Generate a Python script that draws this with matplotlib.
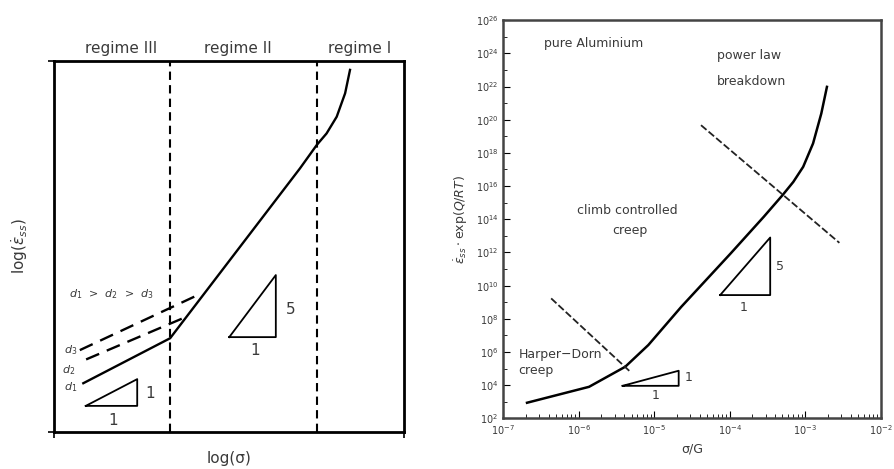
import numpy as np
import matplotlib.pyplot as plt
from matplotlib.ticker import FixedLocator, NullFormatter

# left panel (schematic, axes units 0..1)
main_x = [0.083, 0.331, 0.702, 0.750, 0.778, 0.807, 0.831, 0.845]
main_y = [0.132, 0.253, 0.710, 0.773, 0.804, 0.849, 0.912, 0.975]
d2_x = [0.091, 0.378]
d2_y = [0.196, 0.311]
d3_x = [0.073, 0.421]
d3_y = [0.221, 0.374]
regime_bounds = [0.331, 0.750]
regime_names = ['regime III', 'regime II', 'regime I']
regime_pos = [0.192, 0.526, 0.873]
tri1_x = [0.090, 0.237, 0.237, 0.090]
tri1_y = [0.071, 0.071, 0.143, 0.071]
tri5_x = [0.500, 0.633, 0.633, 0.500]
tri5_y = [0.256, 0.256, 0.423, 0.256]

# right panel (log10 values)
al_logs = [-6.686, -5.864, -5.384, -5.078, -4.642, -3.987, -3.55, -3.30,
           -3.157, -3.026, -2.895, -2.786, -2.711]
al_logr = [2.94, 3.90, 5.11, 6.42, 8.72, 11.94, 14.14, 15.45,
           16.25, 17.16, 18.57, 20.37, 21.98]
plb_logs = [-4.380, -2.546]
plb_logr = [19.67, 12.58]
hd_logs = [-6.366, -5.318]
hd_logr = [9.23, 4.81]
t5_logs = [-4.126, -3.463, -3.463, -4.126]
t5_logr = [9.43, 9.43, 12.90, 9.43]
t1_logs = [-5.419, -4.676, -4.676, -5.419]
t1_logr = [3.96, 3.96, 4.87, 3.96]

txt = '#3a3a3a'
fig = plt.figure(figsize=(8.94, 4.69), dpi=100)

# ---- left
ax = fig.add_axes([0.0607, 0.0783, 0.3915, 0.7925])
ax.plot(main_x, main_y, color='black', lw=1.7)
ax.plot(d2_x, d2_y, color='black', lw=1.7, dashes=(6, 3.5))
ax.plot(d3_x, d3_y, color='black', lw=1.7, dashes=(6, 3.5))
for b in regime_bounds:
    ax.axvline(b, color='black', lw=1.5, dashes=(4, 2.5))
for n, p in zip(regime_names, regime_pos):
    ax.text(p, 1.033, n, ha='center', va='center', fontsize=11, color=txt,
            transform=ax.transAxes)
ax.plot(tri1_x, tri1_y, color='black', lw=1.3)
ax.plot(tri5_x, tri5_y, color='black', lw=1.3)
ax.text(0.169, 0.031, '1', ha='center', va='center', fontsize=11, color=txt)
ax.text(0.275, 0.103, '1', ha='center', va='center', fontsize=11, color=txt)
ax.text(0.573, 0.22, '1', ha='center', va='center', fontsize=11, color=txt)
ax.text(0.675, 0.331, '5', ha='center', va='center', fontsize=11, color=txt)
ax.text(0.047, 0.222, '$d_3$', ha='center', va='center', fontsize=8, color=txt)
ax.text(0.042, 0.168, '$d_2$', ha='center', va='center', fontsize=8, color=txt)
ax.text(0.048, 0.121, '$d_1$', ha='center', va='center', fontsize=8, color=txt)
ax.text(0.164, 0.371, '$d_1$  >  $d_2$  >  $d_3$', ha='center', va='center',
        fontsize=8, color=txt)
ax.set_xlim(0, 1)
ax.set_ylim(0, 1)
ax.set_xticks([0, 1])
ax.set_yticks([0, 1])
ax.set_xticklabels([])
ax.set_yticklabels([])
ax.tick_params(direction='out', length=4, width=1.2)
for s in ax.spines.values():
    s.set_linewidth(2)
ax.set_xlabel('log(σ)', fontsize=11, color=txt, labelpad=6)
ax.set_ylabel(r'log($\dot{\varepsilon}_{ss}$)', fontsize=11, color=txt, labelpad=10)

# ---- right
ax2 = fig.add_axes([0.563, 0.108, 0.422, 0.849])
ax2.plot(10.0 ** np.array(al_logs), 10.0 ** np.array(al_logr), color='black', lw=1.8)
ax2.plot(10.0 ** np.array(plb_logs), 10.0 ** np.array(plb_logr), color='#222222',
         lw=1.3, dashes=(4, 1.5))
ax2.plot(10.0 ** np.array(hd_logs), 10.0 ** np.array(hd_logr), color='#222222',
         lw=1.3, dashes=(4, 1.5))
ax2.plot(10.0 ** np.array(t5_logs), 10.0 ** np.array(t5_logr), color='black', lw=1.3)
ax2.plot(10.0 ** np.array(t1_logs), 10.0 ** np.array(t1_logr), color='black', lw=1.3)
ax2.set_xscale('log')
ax2.set_yscale('log')
ax2.set_xlim(1e-7, 1e-2)
ax2.set_ylim(1e2, 1e26)
ax2.yaxis.set_major_locator(FixedLocator(10.0 ** np.arange(2, 27, 2)))
ax2.yaxis.set_minor_locator(FixedLocator(10.0 ** np.arange(3, 26, 2)))
ax2.yaxis.set_minor_formatter(NullFormatter())
ax2.tick_params(which='both', direction='in', top=False, right=False,
                labelsize=7, labelcolor=txt)
ax2.tick_params(which='major', length=5)
ax2.tick_params(which='minor', length=3)
for s in ax2.spines.values():
    s.set_linewidth(1.8)
    s.set_color('#444444')

def lt(x, y, s, **kw):
    ax2.text(10.0 ** x, 10.0 ** y, s, fontsize=9, color=txt, va='center', **kw)

lt(-5.80, 24.59, 'pure Aluminium', ha='center')
lt(-4.17, 23.89, 'power law', ha='left')
lt(-4.17, 22.28, 'breakdown', ha='left')
lt(-5.36, 14.51, 'climb controlled', ha='center')
lt(-5.32, 13.34, 'creep', ha='center')
lt(-6.80, 5.86, 'Harper−Dorn', ha='left')
lt(-6.80, 4.87, 'creep', ha='left')
lt(-3.33, 11.13, '5', ha='center')
lt(-3.81, 8.69, '1', ha='center')
lt(-4.55, 4.45, '1', ha='center')
lt(-4.98, 3.40, '1', ha='center')
ax2.set_xlabel('σ/G', fontsize=9, color=txt, labelpad=4)
ax2.set_ylabel(r'$\dot{\varepsilon}_{ss}\cdot\exp(Q/RT)$', fontsize=9, color=txt,
               labelpad=4)

fig.savefig('out.png', dpi=100)
